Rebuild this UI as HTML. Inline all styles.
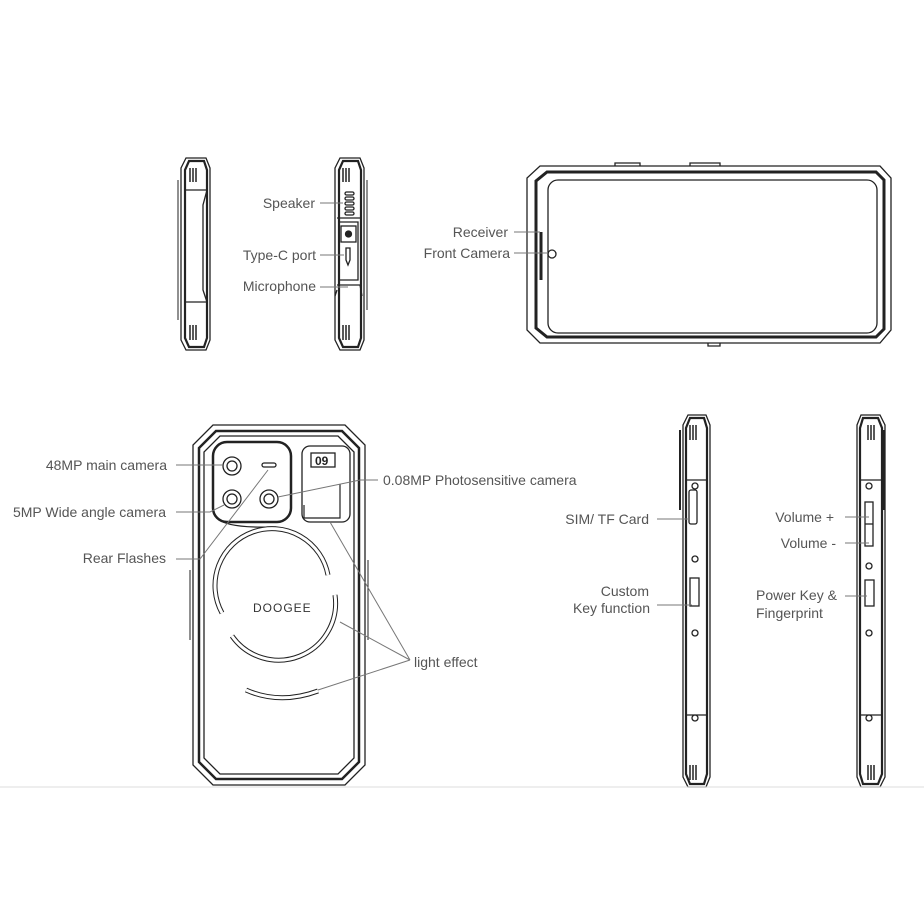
<!DOCTYPE html>
<html><head><meta charset="utf-8"><style>
html,body{margin:0;padding:0;background:#fff;}
svg{display:block}
text{font-family:"Liberation Sans",sans-serif;font-size:14px;fill:#555;}
.e{text-anchor:end}
</style></head><body>
<svg width="924" height="924" viewBox="0 0 924 924" xmlns="http://www.w3.org/2000/svg">
<g fill="none" stroke="#222" stroke-width="1.3">
<path d="M186 158 H206 L210 168 V340 L206 350 H186 L181 340 V168 Z"/>
<path d="M189 161 H204 L207 170 V338 L204 347 H189 L185 338 V170 Z" stroke-width="2.2"/>
<path d="M185 190 H207 L203 205 V290 L207 302 H185"/>
<path d="M190 168 V182 M193 168 V182 M196 168 V182 M190 325 V340 M193 325 V340 M196 325 V340" stroke-width="1.5"/>
<path d="M178 180 V320" stroke-width="1"/>
<path d="M340 158 H360 L364 168 V340 L360 350 H340 L335 340 V168 Z"/>
<path d="M343 161 H358 L361 170 V338 L358 347 H343 L339 338 V170 Z" stroke-width="2.2"/>
<path d="M343 168 V182 M346 168 V182 M349 168 V182 M343 325 V340 M346 325 V340 M349 325 V340" stroke-width="1.5"/>
<path d="M367 180 V310" stroke-width="1"/>
<rect x="345" y="192" width="9" height="3" rx="1.5"/><rect x="345" y="197" width="9" height="3" rx="1.5"/><rect x="345" y="202" width="9" height="3" rx="1.5"/><rect x="345" y="207" width="9" height="3" rx="1.5"/><rect x="345" y="212" width="9" height="3" rx="1.5"/>
<path d="M337 218 H360 M339 222 H358 V280 H339 Z"/>
<rect x="341" y="226" width="15" height="16"/><circle cx="348.5" cy="234" r="3" fill="#222"/>
<path d="M346 248 h4 v12 l-2 5 l-2 -5 Z"/>
<path d="M337 285 H360 L362 296 M337 290 L335 296"/>
<path d="M540 166 H880 L891 178 V330 L880 343 H540 L527 330 V178 Z"/>
<path d="M547 172 H876 L884 180 V329 L876 337 H547 L536 328 V181 Z" stroke-width="3"/>
<rect x="548" y="180" width="329" height="153" rx="10"/>
<path d="M615 166 V163 H640 V166 M690 166 V163 H720 V166 M708 343 V346 H720 V343"/>
<circle cx="552" cy="254" r="4"/>
<path d="M541 232 V280" stroke-width="3"/>
<path d="M213 425 H345 L365 445 V765 L345 785 H213 L193 765 V445 Z"/>
<path d="M216 431 H342 L359 448 V762 L342 779 H216 L199 762 V448 Z" stroke-width="2.5"/>
<path d="M220 436 H338 L354 452 V758 L338 774 H220 L204 758 V452 Z"/>
<rect x="213" y="442" width="78" height="80" rx="14" stroke-width="2.5"/>
<circle cx="232" cy="466" r="9"/><circle cx="232" cy="466" r="5"/>
<circle cx="232" cy="499" r="9"/><circle cx="232" cy="499" r="5"/>
<circle cx="269" cy="499" r="9"/><circle cx="269" cy="499" r="5"/>
<rect x="262" y="463" width="14" height="4" rx="2"/>
<path d="M217 518 Q226 528 270 527 H276"/>
<rect x="302" y="446" width="48" height="76" rx="8"/>
<rect x="311" y="453" width="24" height="14"/>
<path d="M304 505 V518 H340 V484" stroke-width="1.2"/>
<path d="M222 613 A57 57 0 1 1 328 575" stroke-width="5"/><path d="M222 613 A57 57 0 1 1 328 575" stroke="#fff" stroke-width="3"/>
<path d="M335 595 A57 57 0 0 1 232 636" stroke-width="5"/><path d="M335 595 A57 57 0 0 1 232 636" stroke="#fff" stroke-width="3"/>
<path d="M246 690 Q280 705 318 691" stroke-width="5"/><path d="M246 690 Q280 705 318 691" stroke="#fff" stroke-width="3"/>
<path d="M190 570 V640 M368 560 V640" stroke-width="1"/>
<path d="M688 415 H706 L710 425 V777 L706 787 H688 L683 777 V425 Z"/>
<path d="M690 418 H704 L707 428 V774 L704 784 H690 L686 774 V428 Z" stroke-width="2.2"/>
<path d="M690 425 V440 M693 425 V440 M696 425 V440 M690 765 V780 M693 765 V780 M696 765 V780" stroke-width="1.5"/>
<path d="M680 430 V510" stroke-width="2"/>
<path d="M686 480 H707 M686 715 H707"/>
<rect x="689" y="490" width="8" height="34" rx="2"/>
<rect x="690" y="578" width="9" height="28"/>
<circle cx="695" cy="486" r="3"/><circle cx="695" cy="559" r="3"/><circle cx="695" cy="633" r="3"/><circle cx="695" cy="718" r="3"/>
<path d="M861 415 H880 L885 425 V777 L880 787 H861 L857 777 V425 Z"/>
<path d="M863 418 H878 L882 428 V774 L878 784 H863 L860 774 V428 Z" stroke-width="2.2"/>
<path d="M868 425 V440 M871 425 V440 M874 425 V440 M868 765 V780 M871 765 V780 M874 765 V780" stroke-width="1.5"/>
<path d="M884 430 V510" stroke-width="2"/>
<path d="M860 480 H882 M860 715 H882"/>
<rect x="865" y="502" width="8" height="44"/><path d="M865 524 H873"/>
<rect x="865" y="580" width="9" height="26"/>
<circle cx="869" cy="486" r="3"/><circle cx="869" cy="566" r="3"/><circle cx="869" cy="633" r="3"/><circle cx="869" cy="718" r="3"/>
</g>
<text x="315" y="465" style="font-size:12px;fill:#222;font-weight:bold">09</text>
<text x="253" y="612" style="font-size:12px;fill:#333;letter-spacing:1px">DOOGEE</text>
<g stroke="#777" stroke-width="1" fill="none">
<path d="M320 203 H343 M320 255 H344 M320 287 H348"/>
<path d="M514 232 H540 M514 253 H548"/>
<path d="M176 465 H223 M176 512 H210 L224 505 M176 559 H200 L268 470"/>
<path d="M378 480 H360 L278 497"/>
<path d="M410 660 L330 522 M410 660 L340 622 M410 660 L318 690"/>
<path d="M657 519 H690 M657 605 H692 M845 517 H869 M845 543 H869 M845 596 H867"/>
<path d="M0 787 H924" stroke="#ddd"/>
</g>
<text class="e" x="315" y="208">Speaker</text>
<text class="e" x="316" y="260">Type-C port</text>
<text class="e" x="316" y="291">Microphone</text>
<text class="e" x="508" y="237">Receiver</text>
<text class="e" x="510" y="258">Front Camera</text>
<text class="e" x="167" y="470">48MP main camera</text>
<text class="e" x="166" y="517">5MP Wide angle camera</text>
<text class="e" x="166" y="563">Rear Flashes</text>
<text x="383" y="485">0.08MP  Photosensitive camera</text>
<text x="414" y="667">light effect</text>
<text class="e" x="649" y="524">SIM/ TF Card</text>
<text class="e" x="649" y="596">Custom</text>
<text class="e" x="650" y="613">Key function</text>
<text class="e" x="834" y="522">Volume +</text>
<text class="e" x="836" y="548">Volume -</text>
<text x="756" y="600">Power Key &amp;</text>
<text x="756" y="618">Fingerprint</text>
</svg>
</body></html>
